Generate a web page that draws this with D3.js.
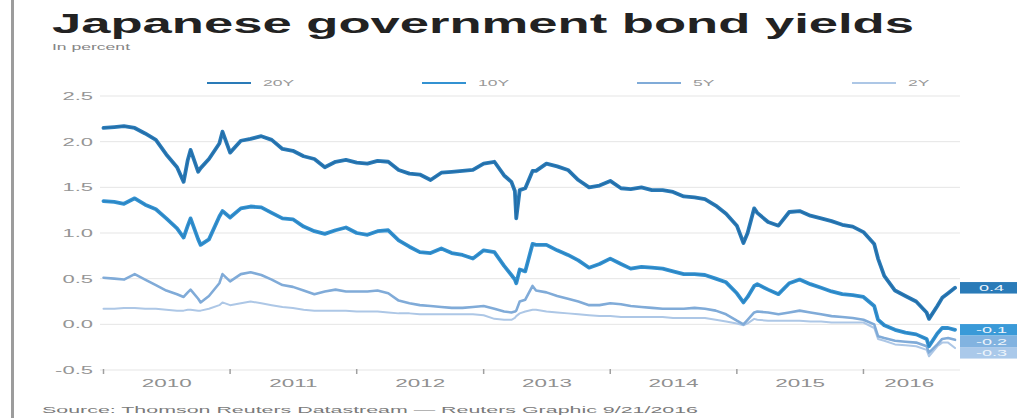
<!DOCTYPE html>
<html>
<head>
<meta charset="utf-8">
<script src="https://cdn.jsdelivr.net/npm/d3@7"></script>
<style>
  html, body { margin: 0; padding: 0; background: #fff; }
  svg { display: block; font-family: "Liberation Sans", Arial, Helvetica, sans-serif; }
</style>
</head>
<body>
<svg id="chart" width="1021" height="418"></svg>
<script>
// Observation dates (month starts plus a few turning points)
const dates = [
  "2010-01-01","2010-02-01","2010-03-01","2010-04-01","2010-05-01","2010-06-01","2010-07-01","2010-08-01","2010-08-20","2010-09-01","2010-09-09","2010-10-01","2010-10-08","2010-11-01","2010-12-01","2010-12-10",
  "2011-01-01","2011-02-01","2011-03-01","2011-04-01","2011-05-01","2011-06-01","2011-07-01","2011-08-01","2011-09-01","2011-10-01","2011-11-01","2011-12-01",
  "2012-01-01","2012-02-01","2012-03-01","2012-04-01","2012-05-01","2012-06-01","2012-07-01","2012-08-01","2012-09-01","2012-10-01","2012-11-01","2012-12-01",
  "2013-01-01","2013-02-01","2013-03-01","2013-03-22","2013-04-01","2013-04-05","2013-04-15","2013-05-01","2013-05-22","2013-06-01","2013-07-01","2013-08-01","2013-09-01","2013-10-01","2013-11-01","2013-12-01",
  "2014-01-01","2014-02-01","2014-03-01","2014-04-01","2014-05-01","2014-06-01","2014-07-01","2014-08-01","2014-09-01","2014-10-01","2014-11-01","2014-12-01",
  "2015-01-01","2015-01-20","2015-02-01","2015-02-20","2015-03-01","2015-04-01","2015-05-01","2015-06-01","2015-07-01","2015-08-01","2015-09-01","2015-10-01","2015-11-01","2015-12-01",
  "2016-01-01","2016-02-01","2016-02-12","2016-03-01","2016-04-01","2016-05-01","2016-06-01","2016-07-01","2016-07-08","2016-08-01","2016-08-15","2016-09-01","2016-09-21"
];

// Yields in percent, one value per date above
const yield20 = [
  2.15,2.16,2.17,2.15,2.09,2.02,1.86,1.72,1.56,1.80,1.91,1.67,1.71,1.81,1.98,2.11,
  1.88,2.01,2.03,2.06,2.02,1.92,1.90,1.84,1.81,1.72,1.78,1.80,
  1.77,1.76,1.79,1.78,1.69,1.65,1.64,1.58,1.66,1.67,1.68,1.69,
  1.76,1.78,1.63,1.56,1.46,1.16,1.47,1.49,1.68,1.68,1.76,1.73,1.69,1.58,1.50,1.52,
  1.57,1.49,1.48,1.50,1.47,1.47,1.45,1.40,1.39,1.37,1.30,1.21,
  1.08,0.89,1.00,1.27,1.22,1.12,1.08,1.23,1.24,1.19,1.16,1.13,1.09,1.07,
  1.01,0.88,0.72,0.53,0.37,0.31,0.25,0.13,0.06,0.20,0.29,0.34,0.40
];
const yield10 = [
  1.35,1.34,1.32,1.38,1.31,1.26,1.16,1.05,0.95,1.08,1.16,0.93,0.87,0.93,1.18,1.24,
  1.17,1.27,1.29,1.28,1.22,1.16,1.15,1.07,1.02,0.99,1.03,1.06,
  1.00,0.98,1.02,1.03,0.92,0.85,0.79,0.78,0.83,0.78,0.76,0.72,
  0.81,0.79,0.64,0.54,0.49,0.45,0.60,0.58,0.88,0.87,0.87,0.81,0.76,0.70,0.62,0.66,
  0.72,0.66,0.61,0.63,0.62,0.61,0.58,0.55,0.55,0.54,0.50,0.46,
  0.34,0.24,0.30,0.42,0.44,0.38,0.33,0.45,0.49,0.44,0.40,0.36,0.33,0.32,
  0.30,0.20,0.05,-0.01,-0.06,-0.09,-0.11,-0.16,-0.24,-0.10,-0.04,-0.04,-0.06
];
const yield5 = [
  0.51,0.50,0.49,0.55,0.49,0.43,0.37,0.33,0.30,0.35,0.38,0.28,0.24,0.31,0.45,0.55,
  0.47,0.55,0.57,0.54,0.49,0.43,0.41,0.37,0.33,0.36,0.38,0.36,
  0.36,0.36,0.37,0.34,0.26,0.23,0.21,0.20,0.19,0.18,0.18,0.19,
  0.20,0.17,0.14,0.13,0.14,0.15,0.25,0.27,0.42,0.37,0.35,0.31,0.28,0.25,0.21,0.21,
  0.23,0.22,0.20,0.19,0.18,0.17,0.17,0.17,0.18,0.17,0.15,0.11,
  0.04,0.00,0.05,0.13,0.14,0.13,0.11,0.13,0.15,0.13,0.11,0.09,0.08,0.07,
  0.05,0.00,-0.13,-0.15,-0.18,-0.19,-0.20,-0.24,-0.31,-0.22,-0.16,-0.15,-0.17
];
const yield2 = [
  0.17,0.17,0.18,0.18,0.17,0.17,0.16,0.15,0.15,0.16,0.16,0.15,0.15,0.17,0.21,0.24,
  0.21,0.23,0.25,0.23,0.21,0.19,0.18,0.16,0.15,0.15,0.15,0.15,
  0.14,0.14,0.14,0.13,0.12,0.12,0.11,0.11,0.11,0.11,0.11,0.11,
  0.10,0.06,0.05,0.05,0.07,0.09,0.12,0.14,0.16,0.16,0.14,0.13,0.12,0.11,0.10,0.09,
  0.09,0.08,0.08,0.08,0.08,0.08,0.07,0.07,0.07,0.07,0.05,0.03,
  0.01,-0.01,0.01,0.06,0.05,0.04,0.04,0.04,0.04,0.03,0.03,0.02,0.02,0.02,
  0.02,-0.04,-0.16,-0.18,-0.22,-0.23,-0.24,-0.28,-0.35,-0.24,-0.20,-0.20,-0.26
];

const seriesNames = ["20Y", "10Y", "5Y", "2Y"];
const yTicks = [-0.5, 0, 0.5, 1, 1.5, 2, 2.5];
const years = [2010, 2011, 2012, 2013, 2014, 2015, 2016];

const titleText = "Japanese government bond yields";
const subtitleText = "In percent";
const sourceText = "Source: Thomson Reuters Datastream \u2014 Reuters Graphic 9/21/2016";

// ---- styling ----
const lineColor  = ["#2a7bb8", "#3392d2", "#80abd8", "#adc7e6"];
const coreColor  = ["#1d5f95", "#2474ad", null, null];
const lineWidth  = [3.8, 3.8, 2.6, 2.0];
const boxColor   = ["#2a7bb8", "#3a9ad8", "#82b3e0", "#aac9ea"];
const TEXT_SX = 1.95;   // horizontal stretch of the small labels

const parse = d3.utcParse("%Y-%m-%d");
const dateObjs = dates.map(parse);
const values = [yield20, yield10, yield5, yield2];
const series = seriesNames.map((name, i) => ({
  name, i,
  points: dateObjs.map((d, k) => ({ date: d, v: values[i][k] }))
}));

const fmt = d3.formatLocale({ decimal: ".", thousands: ",", grouping: [3], currency: ["", ""], minus: "-" });
const f1 = fmt.format(".1f");

const svg = d3.select("#chart");

const x = d3.scaleUtc()
  .domain([Date.UTC(2010, 0, 1), Date.UTC(2017, 0, 1)])
  .range([103.5, 103.5 + 7 * 126.7]);
const y = d3.scaleLinear().domain([-0.5, 2.5]).range([370, 96]);

const gridLeft = 100, gridRight = 960;

function stretch(sel, sx) {
  sel.each(function () {
    const t = d3.select(this);
    const tx = +t.attr("x") || 0, ty = +t.attr("y") || 0;
    t.attr("x", 0).attr("y", 0)
     .attr("transform", `translate(${tx},${ty}) scale(${sx},1)`);
  });
}

// left rule
svg.append("rect").attr("x", 11).attr("y", 0).attr("width", 3).attr("height", 418).attr("fill", "#9c9c9c");

// title block
svg.append("text").attr("x", 52).attr("y", 33)
  .attr("font-size", 27).attr("font-weight", "bold").attr("fill", "#222")
  .attr("textLength", 862).attr("lengthAdjust", "spacingAndGlyphs")
  .text(titleText);
svg.append("text").attr("x", 52).attr("y", 50)
  .attr("font-size", 9.5).attr("fill", "#858585")
  .attr("textLength", 78).attr("lengthAdjust", "spacingAndGlyphs")
  .text(subtitleText);

// gridlines + y labels
const yAxis = svg.append("g").attr("class", "y-axis");
yAxis.selectAll("line").data(yTicks).join("line")
  .attr("x1", gridLeft).attr("x2", gridRight)
  .attr("y1", d => y(d)).attr("y2", d => y(d))
  .attr("stroke", "#e5e5e5").attr("stroke-width", 1);
yAxis.selectAll("text").data(yTicks).join("text")
  .attr("x", 93).attr("y", d => y(d)).attr("dy", "0.35em")
  .attr("text-anchor", "end").attr("font-size", 11).attr("fill", "#959595")
  .text(d => f1(d))
  .call(stretch, 2.0);

// x axis: year ticks and centred year labels
const xAxis = svg.append("g").attr("class", "x-axis");
const lastDate = dateObjs[dateObjs.length - 1];
xAxis.selectAll("line").data(years).join("line")
  .attr("x1", d => x(Date.UTC(d, 0, 1))).attr("x2", d => x(Date.UTC(d, 0, 1)))
  .attr("y1", 369).attr("y2", 374)
  .attr("stroke", "#a0a0a0").attr("stroke-width", 1.5);
xAxis.selectAll("text").data(years).join("text")
  .attr("x", d => {
    const a = Date.UTC(d, 0, 1);
    const b = Math.min(Date.UTC(d + 1, 0, 1), +lastDate);
    return (x(a) + x(b)) / 2;
  })
  .attr("y", 387).attr("text-anchor", "middle")
  .attr("font-size", 11.5).attr("fill", "#909090")
  .text(d => d)
  .call(stretch, TEXT_SX);

// legend
const legend = svg.append("g").attr("class", "legend");
const legendItems = legend.selectAll("g").data(series).join("g")
  .attr("transform", d => `translate(${207 + d.i * 215},83)`);
legendItems.append("line").attr("x1", 0).attr("x2", 44).attr("y1", 0).attr("y2", 0)
  .attr("stroke", d => lineColor[d.i]).attr("stroke-width", 2);
legendItems.append("text").attr("x", 56).attr("y", 0).attr("dy", "0.35em")
  .attr("font-size", 9).attr("fill", "#999")
  .text(d => d.name)
  .call(stretch, TEXT_SX);

// series lines (shortest maturity underneath)
const line = d3.line().x(d => x(d.date)).y(d => y(d.v));
const lines = svg.append("g").attr("class", "lines").attr("fill", "none")
  .attr("stroke-linejoin", "round").attr("stroke-linecap", "round");
[...series].reverse().forEach(s => {
  lines.append("path").datum(s.points)
    .attr("d", line).attr("stroke", lineColor[s.i]).attr("stroke-width", lineWidth[s.i]);
  if (coreColor[s.i]) {
    lines.append("path").datum(s.points)
      .attr("d", line).attr("stroke", coreColor[s.i]).attr("stroke-width", 1.1)
      .attr("stroke-opacity", 0.55);
  }
});

// end-value tags, stacked so they never overlap
const boxH = 11.5, boxX = 960, boxW = 57;
const tags = series.map(s => {
  const last = s.points[s.points.length - 1];
  return { i: s.i, v: last.v, cy: y(last.v) };
}).sort((a, b) => a.cy - b.cy);
for (let k = 1; k < tags.length; k++) {
  tags[k].cy = Math.max(tags[k].cy, tags[k - 1].cy + boxH);
}
const tagG = svg.append("g").attr("class", "tags");
tagG.selectAll("rect").data(tags).join("rect")
  .attr("x", boxX).attr("y", d => d.cy - boxH / 2)
  .attr("width", boxW).attr("height", boxH)
  .attr("fill", d => boxColor[d.i]);
tagG.selectAll("text").data(tags).join("text")
  .attr("x", boxX + boxW / 2 + 3).attr("y", d => d.cy).attr("dy", "0.36em")
  .attr("text-anchor", "middle").attr("font-size", 9.5).attr("fill", "#eef5fb")
  .text(d => f1(d.v))
  .call(stretch, 1.9);

// source line
svg.append("text").attr("x", 42).attr("y", 413)
  .attr("font-size", 9).attr("fill", "#7a7a7a")
  .attr("textLength", 656).attr("lengthAdjust", "spacingAndGlyphs")
  .text(sourceText);
</script>
</body>
</html>
